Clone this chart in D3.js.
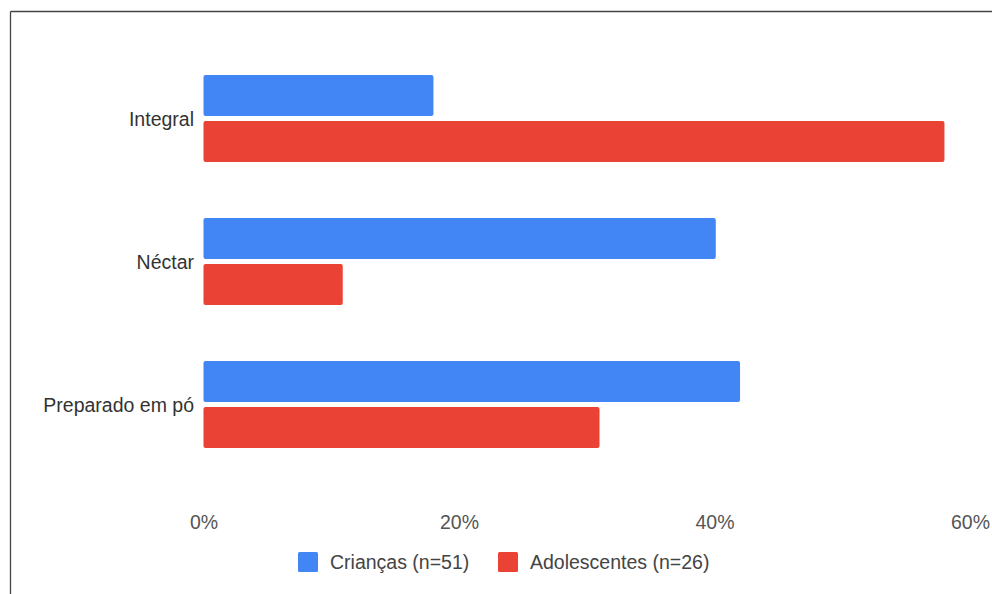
<!DOCTYPE html>
<html>
<head>
<meta charset="utf-8">
<script src="https://cdn.jsdelivr.net/npm/d3@7"></script>
<style>
  html, body { margin: 0; padding: 0; background: #fff; }
  svg { display: block; font-family: "Liberation Sans", Arial, sans-serif; }
</style>
</head>
<body>
<svg id="chart" width="992" height="594"></svg>
<script>
const categories = ["Integral", "Néctar", "Preparado em pó"];
const seriesNames = ["Crianças (n=51)", "Adolescentes (n=26)"];
const criancas = [18.0, 40.1, 42.0];
const adolescentes = [58.0, 10.9, 31.0];
const xTicks = [0, 20, 40, 60];
const colors = ["#4285F4", "#EA4335"];

const seriesValues = [criancas, adolescentes];
const svg = d3.select("#chart");

// frame (top and left edges visible)
svg.append("line").attr("x1", 10.5).attr("x2", 992).attr("y1", 11.5).attr("y2", 11.5)
  .attr("stroke", "#444").attr("stroke-width", 1.3);
svg.append("line").attr("x1", 10.5).attr("x2", 10.5).attr("y1", 11.5).attr("y2", 594)
  .attr("stroke", "#444").attr("stroke-width", 1.3);

const x = d3.scaleLinear().domain([0, 60]).range([203.5, 970]);
const y = d3.scaleBand().domain(categories).range([47, 476])
  .paddingInner(0.3916).paddingOuter(0.1958);
const ySub = d3.scaleBand().domain(d3.range(seriesNames.length)).range([0, y.bandwidth()])
  .paddingInner(0.1087);

const groups = svg.append("g").selectAll("g")
  .data(categories)
  .join("g")
  .attr("transform", d => `translate(0,${y(d)})`);

groups.selectAll("rect")
  .data((d, i) => seriesValues.map((s, k) => ({ k, v: s[i] })))
  .join("rect")
  .attr("x", x(0))
  .attr("y", d => ySub(d.k))
  .attr("width", d => x(d.v) - x(0))
  .attr("height", ySub.bandwidth())
  .attr("rx", 2)
  .attr("fill", d => colors[d.k]);

// category labels
svg.append("g").selectAll("text")
  .data(categories)
  .join("text")
  .attr("x", 194)
  .attr("y", d => y(d) + y.bandwidth() / 2)
  .attr("text-anchor", "end")
  .attr("dominant-baseline", "central")
  .attr("font-size", 19.5)
  .attr("fill", "#333")
  .text(d => d);

// x axis tick labels
const xAxis = d3.axisBottom(x).tickValues(xTicks).tickFormat(d => d + "%").tickSize(0).tickPadding(0);
const ax = svg.append("g").attr("transform", "translate(0,515)").call(xAxis);
ax.select(".domain").remove();
ax.selectAll("text")
  .attr("font-size", 19.5)
  .attr("font-family", "Liberation Sans, Arial, sans-serif")
  .attr("fill", "#555")
  .attr("dy", "0.71em");

// legend
const legendX = [298, 498];
const lg = svg.append("g").selectAll("g")
  .data(seriesNames)
  .join("g")
  .attr("transform", (d, i) => `translate(${legendX[i]},552)`);
lg.append("rect").attr("width", 20).attr("height", 20).attr("rx", 1.5)
  .attr("fill", (d, i) => colors[i]);
lg.append("text").attr("x", 32).attr("y", 10)
  .attr("dominant-baseline", "central")
  .attr("font-size", 19.5)
  .attr("fill", "#444")
  .text(d => d);
</script>
</body>
</html>
